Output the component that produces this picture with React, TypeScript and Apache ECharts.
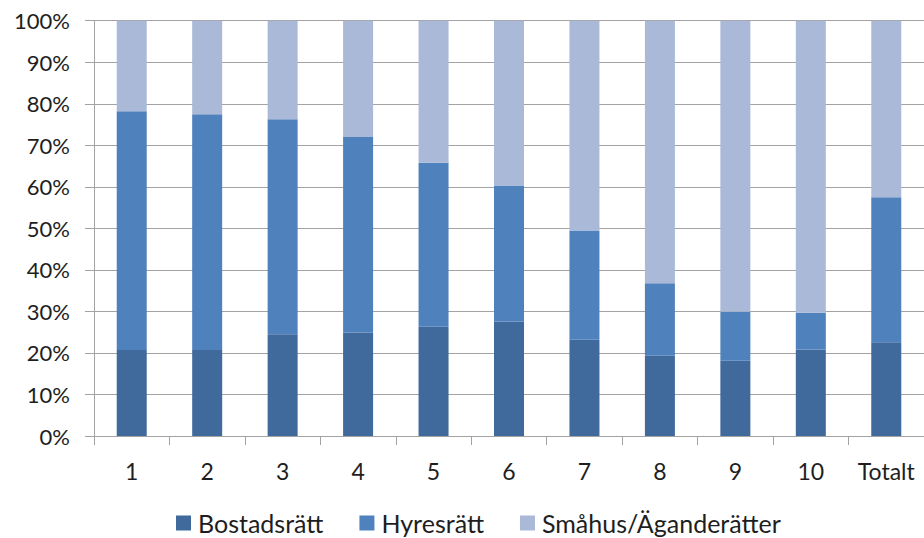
import React, { useEffect, useRef } from "react";
import * as echarts from "echarts";

const categories = ["1", "2", "3", "4", "5", "6", "7", "8", "9", "10", "Totalt"];
const bostadsratt = [20.7, 20.7, 24.5, 24.9, 26.3, 27.6, 23.2, 19.3, 18.1, 20.8, 22.6];
const hyresratt = [57.5, 56.8, 51.8, 47.1, 39.5, 32.7, 26.3, 17.5, 11.8, 8.9, 34.9];
const smahus = [21.8, 22.5, 23.7, 28.0, 34.2, 39.7, 50.5, 63.2, 70.1, 70.3, 42.5];
const yTicks = [0, 10, 20, 30, 40, 50, 60, 70, 80, 90, 100];

const FONT = "Lato, 'Open Sans', sans-serif";
const TEXT = "#1e1e1e";
const GRID = "#a3a3a3";

export default function App() {
  const ref = useRef<HTMLDivElement>(null);
  useEffect(() => {
    if (!ref.current) return;
    const chart = echarts.init(ref.current, undefined, { renderer: "svg" });
    const mk = (name: string, data: number[], color: string) => ({
      name,
      type: "bar",
      stack: "total",
      data,
      barWidth: 30,
      itemStyle: { color },
    });
    chart.setOption({
      animation: false,
      textStyle: { fontFamily: FONT },
      grid: { left: 94, top: 20.7, width: 830.5, height: 415.3, containLabel: false },
      legend: {
        left: 176,
        top: 510,
        padding: 0,
        itemWidth: 15,
        itemHeight: 15,
        itemGap: 36,
        icon: "rect",
        textStyle: { fontFamily: FONT, fontSize: 25, lineHeight: 26, color: TEXT, padding: [0, 0, 0, 2] },
        data: ["Bostadsrätt", "Hyresrätt", "Småhus/Äganderätter"],
      },
      xAxis: {
        type: "category",
        data: categories,
        boundaryGap: true,
        axisLine: { show: true, lineStyle: { color: GRID, width: 1 } },
        axisTick: { show: true, length: 9, alignWithLabel: false, lineStyle: { color: GRID } },
        axisLabel: { color: TEXT, fontSize: 23, margin: 23, fontFamily: FONT, interval: 0 },
        splitLine: { show: false },
      },
      yAxis: {
        type: "value",
        min: 0,
        max: 100,
        interval: 10,
        axisLine: { show: true, lineStyle: { color: GRID, width: 1 } },
        axisTick: { show: true, length: 9, lineStyle: { color: GRID } },
        axisLabel: {
          color: TEXT,
          fontSize: 22,
          margin: 24,
          fontFamily: FONT,
          formatter: (v: number) => (yTicks.includes(v) ? `${v}%` : ""),
        },
        splitLine: { show: true, lineStyle: { color: GRID, width: 1 } },
      },
      series: [
        mk("Bostadsrätt", bostadsratt, "#40699C"),
        mk("Hyresrätt", hyresratt, "#4F81BD"),
        mk("Småhus/Äganderätter", smahus, "#AAB9D7"),
      ],
    });
    return () => chart.dispose();
  }, []);
  return (
    <div
      ref={ref}
      style={{ position: "absolute", left: 0, top: 0, width: 924, height: 538, background: "#fff" }}
    />
  );
}
